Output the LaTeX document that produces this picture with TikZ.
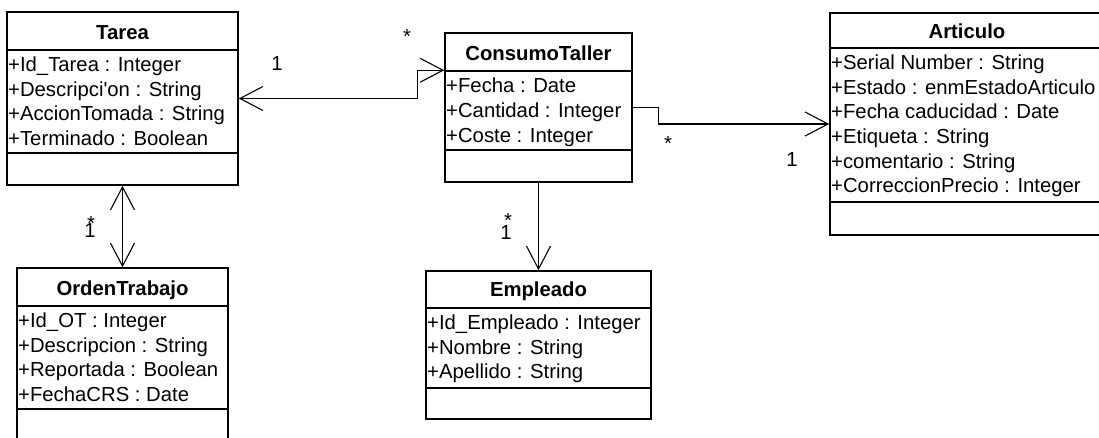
\documentclass[tikz,border=0pt]{standalone}
\usepackage{fontspec}
\setmainfont{Liberation Sans}
\usetikzlibrary{arrows.meta}

\tikzset{
  clase/.style={draw, line width=1.5pt, inner sep=0pt},
  titulo/.style={anchor=base, font=\fontsize{20.3}{24.6}\selectfont\bfseries},
  atrib/.style={anchor=north west, align=left, inner sep=0pt},
  linea/.style={line width=1.5pt},
  asoc/.style={line width=1.1pt},
  mult/.style={anchor=base, inner sep=0pt}
}

\begin{document}
\begin{tikzpicture}[x=1pt, y=-1pt, font=\fontsize{20.3}{24.6}\selectfont,
    >={Straight Barb[length=23pt, width=24pt]}]
  \useasboundingbox (0,0) rectangle (1099,437);
  \clip (0,0) rectangle (1099,437);

  % Tarea
  \node[clase, minimum width=231pt, minimum height=173pt] (tarea) at (122.5,98.5) {};
  \draw[linea] (7,50) -- (238,50);
  \draw[linea] (7,153) -- (238,153);
  \node[titulo] (tareaT) at (122.5,39) {Tarea};
  \node[atrib] (tareaA) at (8,56.8) {+Id\_Tarea : Integer\\+Descripci\textquotesingle on : String\\+AccionTomada : String\\+Terminado : Boolean};

  % ConsumoTaller
  \node[clase, minimum width=187pt, minimum height=149pt] (consumo) at (538.5,107.5) {};
  \draw[linea] (445,71) -- (632,71);
  \draw[linea] (445,150) -- (632,150);
  \node[titulo] (consumoT) at (538.5,60) {ConsumoTaller};
  \node[atrib] (consumoA) at (446,78) {+Fecha : Date\\+Cantidad : Integer\\+Coste : Integer};

  % Articulo
  \node[clase, minimum width=274pt, minimum height=222pt] (articulo) at (967,124) {};
  \draw[linea] (830,48) -- (1104,48);
  \draw[linea] (830,202) -- (1104,202);
  \node[titulo] (articuloT) at (967,38.5) {Articulo};
  \node[atrib] (articuloA) at (831,54.8) {+Serial Number : String\\+Estado : enmEstadoArticulo\\+Fecha caducidad : Date\\+Etiqueta : String\\+comentario : String\\+CorreccionPrecio : Integer};

  % OrdenTrabajo
  \node[clase, minimum width=211pt, minimum height=173pt] (orden) at (122.5,354.5) {};
  \draw[linea] (17,306) -- (228,306);
  \draw[linea] (17,409) -- (228,409);
  \node[titulo] (ordenT) at (122.5,295) {OrdenTrabajo};
  \node[atrib] (ordenA) at (18,312.8) {+Id\_OT : Integer\\+Descripcion : String\\+Reportada : Boolean\\+FechaCRS : Date};

  % Empleado
  \node[clase, minimum width=225pt, minimum height=148pt] (empleado) at (538.5,345) {};
  \draw[linea] (426,308) -- (651,308);
  \draw[linea] (426,388) -- (651,388);
  \node[titulo] (empleadoT) at (538.5,296) {Empleado};
  \node[atrib] (empleadoA) at (427,314.8) {+Id\_Empleado : Integer\\+Nombre : String\\+Apellido : String};

  % asociaciones
  \coordinate (consumoIn) at ([yshift=-38pt]consumo.north west);
  \draw[asoc, <->] (tarea.east) -- ++(179,0) |- (consumoIn);
  \draw[asoc, ->] (consumo.east) -- ++(26,0) |- (articulo.west);
  \draw[asoc, <->] (tarea.south) -- (orden.north);
  \draw[asoc, ->] (consumo.south) -- (empleado.north);

  % multiplicidades
  \node[mult] (m1) at (277,70) {1};
  \node[mult] (m2) at (407,43) {*};
  \node[mult] (m3) at (668,150) {*};
  \node[mult] (m4) at (792,166) {1};
  \node[mult] (m5) at (91,230) {*};
  \node[mult] (m6) at (90,237) {1};
  \node[mult] (m7) at (508,227) {*};
  \node[mult] (m8) at (506,239) {1};
\end{tikzpicture}
\end{document}
